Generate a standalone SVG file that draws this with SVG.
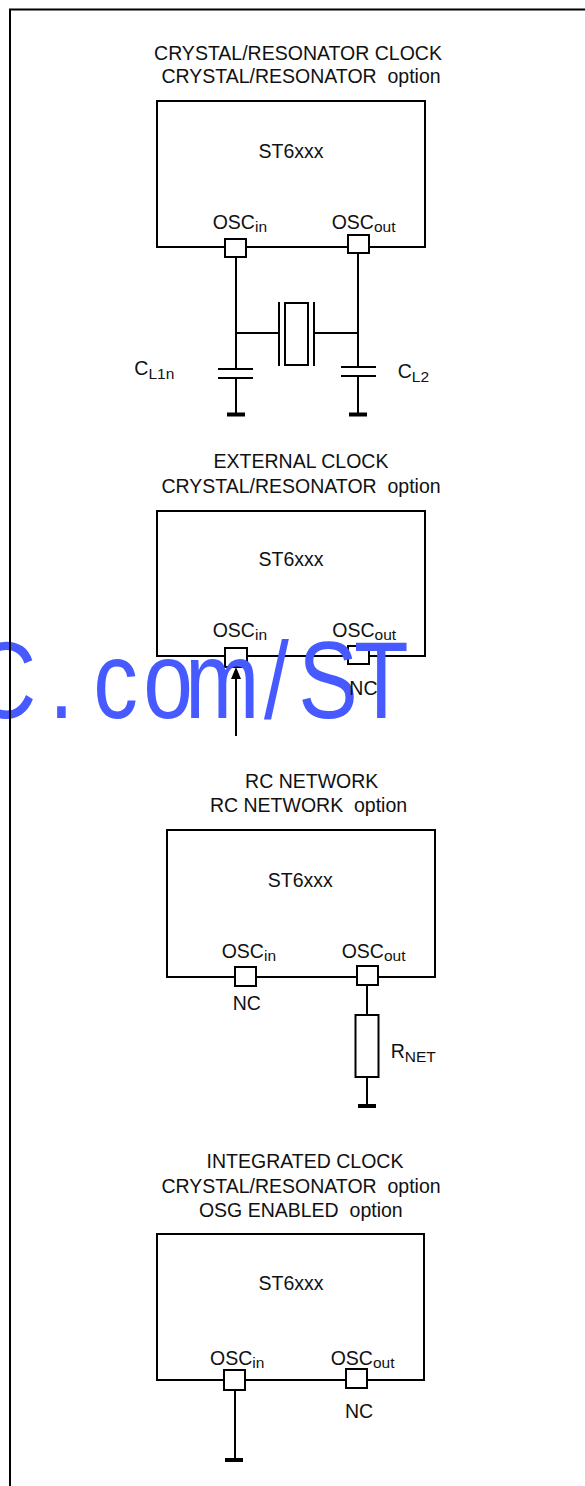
<svg xmlns="http://www.w3.org/2000/svg" width="585" height="1486" viewBox="0 0 585 1486">
<style>
text{font-family:"Liberation Sans",Arial,sans-serif;font-size:19.5px;fill:#111}
.t{text-anchor:middle}
.sub{font-size:15.5px}
.ln{stroke:#000;stroke-width:2;fill:none}
.pin{stroke:#000;stroke-width:2;fill:#fff}
.box{stroke:#000;stroke-width:2;fill:none}
.gnd{fill:#000}
.wm{font-size:109px;fill:#465aff;text-anchor:middle}
</style>
<rect width="585" height="1486" fill="#fff"/>

<g id="sec1">
<text class="t" x="298" y="60">CRYSTAL/RESONATOR CLOCK</text>
<text class="t" x="301" y="83" xml:space="preserve">CRYSTAL/RESONATOR  option</text>
<rect class="box" x="157" y="101" width="268" height="146"/>
<text class="t" x="291" y="158">ST6xxx</text>
<text x="212.7" y="229">OSC<tspan class="sub" dy="3">in</tspan></text>
<text x="331.7" y="229">OSC<tspan class="sub" dy="3">out</tspan></text>
</g>
<g id="pin1in"><rect class="pin" x="225" y="239" width="21" height="18"/></g>
<g id="pin1out"><rect class="pin" x="348" y="235" width="21" height="18"/></g>
<g id="crystal">
<path class="ln" d="M279,302 V366 M314,302 V366"/>
<rect class="ln" x="285" y="303" width="23" height="62"/>
</g>
<g id="cl1">
<path class="ln" d="M218,369 H253 M218,378 H253"/>
<text x="134.3" y="375">C<tspan class="sub" dy="4">L1n</tspan></text>
</g>
<g id="cl2">
<path class="ln" d="M341,367 H376 M341,376 H376"/>
<text x="397.7" y="378">C<tspan class="sub" dy="4">L2</tspan></text>
</g>
<g id="gnd1a"><rect class="gnd" x="227" y="412.5" width="18" height="4"/></g>
<g id="gnd1b"><rect class="gnd" x="349" y="412.5" width="18" height="4"/></g>

<g id="sec2">
<text class="t" x="301" y="468">EXTERNAL CLOCK</text>
<text class="t" x="301" y="493" xml:space="preserve">CRYSTAL/RESONATOR  option</text>
<rect class="box" x="157" y="511" width="268" height="145"/>
<text class="t" x="291" y="566">ST6xxx</text>
<text x="212.7" y="637">OSC<tspan class="sub" dy="3">in</tspan></text>
<text x="332.3" y="637">OSC<tspan class="sub" dy="3">out</tspan></text>
</g>
<g id="pin2in"><rect class="pin" x="225" y="648" width="22" height="19"/></g>
<g id="pin2out"><rect class="pin" x="348" y="646" width="21" height="18"/></g>

<g id="watermark" transform="scale(0.82,1)">
<text class="wm" y="718"><tspan x="5">C</tspan><tspan x="75">.</tspan><tspan x="141">c</tspan><tspan x="205">o</tspan><tspan x="271">m</tspan><tspan x="337">/</tspan><tspan x="400">S</tspan><tspan x="465">T</tspan></text>
</g>
<g id="nc2"><text x="349.3" y="695">NC</text></g>

<g id="sec3">
<text class="t" x="311.7" y="788">RC NETWORK</text>
<text class="t" x="308.5" y="812" xml:space="preserve">RC NETWORK  option</text>
<rect class="box" x="167" y="830" width="268" height="147"/>
<text class="t" x="300.3" y="887">ST6xxx</text>
<text x="221.7" y="958">OSC<tspan class="sub" dy="3">in</tspan></text>
<text x="341.7" y="958">OSC<tspan class="sub" dy="3">out</tspan></text>
<text x="232.7" y="1010">NC</text>
</g>
<g id="pin3in"><rect class="pin" x="235" y="967" width="21" height="19"/></g>
<g id="pin3out"><rect class="pin" x="357" y="966" width="21" height="19"/></g>
<g id="rnet">
<rect class="ln" x="355.5" y="1015" width="23" height="62"/>
<text x="390.7" y="1058">R<tspan class="sub" dy="4">NET</tspan></text>
</g>
<g id="gnd3"><rect class="gnd" x="358" y="1104" width="18" height="4"/></g>

<g id="sec4">
<text class="t" x="305" y="1168">INTEGRATED CLOCK</text>
<text class="t" x="301" y="1193" xml:space="preserve">CRYSTAL/RESONATOR  option</text>
<text class="t" x="300.8" y="1217" xml:space="preserve">OSG ENABLED  option</text>
<rect class="box" x="157" y="1234" width="267" height="146"/>
<text class="t" x="291" y="1290">ST6xxx</text>
<text x="210" y="1365">OSC<tspan class="sub" dy="3">in</tspan></text>
<text x="330.7" y="1365">OSC<tspan class="sub" dy="3">out</tspan></text>
<text x="345" y="1418">NC</text>
</g>
<g id="pin4in"><rect class="pin" x="224" y="1370" width="21" height="20"/></g>
<g id="pin4out"><rect class="pin" x="346" y="1369" width="21" height="19"/></g>
<g id="gnd4"><rect class="gnd" x="225" y="1458" width="18" height="4"/></g>

<g id="frame"><path class="ln" d="M10,1486 V9.5 H585"/></g>
<g id="connectors">
<path class="ln" d="M236,257 V369 M236,378 V413 M358,253 V367 M358,376 V413 M236,333 H279 M314,333 H358"/>
<path class="ln" d="M236,736 V677"/>
<polygon points="236,667 231,679 241,679" fill="#000"/>
<path class="ln" d="M367,985 V1015 M367,1077 V1105"/>
<path class="ln" d="M235,1390 V1459"/>
</g>
</svg>
